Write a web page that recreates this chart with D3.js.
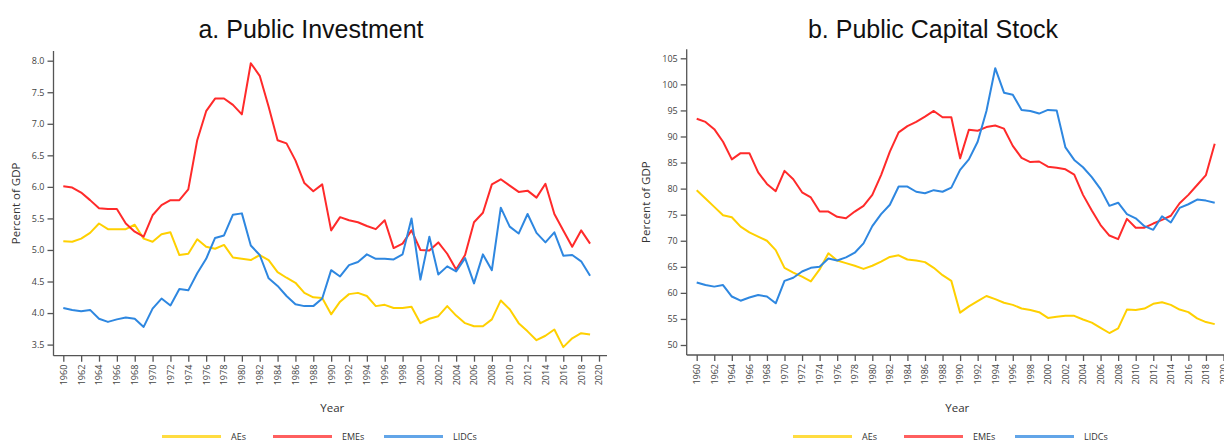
<!DOCTYPE html>
<html>
<head>
<meta charset="utf-8">
<script src="https://cdn.jsdelivr.net/npm/d3@7"></script>
<style>
  html, body { margin: 0; padding: 0; background: #fff; }
  svg { display: block; }
  .tick text { font-family: "Open Sans", "Noto Sans", sans-serif; font-size: 9px; fill: #444; }
  .axis path, .axis line { stroke: #555; stroke-width: 1.3px; }
  .ylab, .xlab, .legend text { font-family: "Open Sans", "Noto Sans", sans-serif; fill: #333; }
  .title { font-family: "Liberation Sans", Arial, sans-serif; fill: #111; }
</style>
</head>
<body>
<svg id="chart" width="1224" height="442"></svg>
<script>
// Years covered by both panels
const years = d3.range(1960, 2020);
const xTickYears = [1960,1962,1964,1966,1968,1970,1972,1974,1976,1978,1980,1982,1984,1986,1988,1990,
  1992,1994,1996,1998,2000,2002,2004,2006,2008,2010,2012,2014,2016,2018,2020];

// a. Public investment, percent of GDP
const invAEs = [5.14,5.13,5.18,5.27,5.42,5.33,5.33,5.33,5.40,5.18, 5.13,5.25,5.28,4.92,4.94,5.17,5.05,5.02,5.08,4.88,
  4.86,4.84,4.92,4.84,4.65,4.56,4.48,4.32,4.25,4.24, 3.98,4.18,4.30,4.32,4.27,4.11,4.13,4.08,4.08,4.10,
  3.84,3.91,3.95,4.11,3.96,3.84,3.79,3.79,3.90,4.20, 4.06,3.84,3.71,3.57,3.64,3.74,3.46,3.60,3.68,3.66];
const invEMEs = [6.01,5.99,5.91,5.79,5.66,5.65,5.65,5.42,5.29,5.21, 5.55,5.71,5.79,5.79,5.96,6.74,7.20,7.40,7.40,7.30,
  7.15,7.96,7.76,7.27,6.74,6.69,6.42,6.06,5.93,6.04, 5.31,5.52,5.47,5.44,5.38,5.33,5.47,5.03,5.10,5.31,
  5.00,4.99,5.12,4.94,4.69,4.92,5.44,5.59,6.04,6.12, 6.02,5.92,5.94,5.83,6.05,5.57,5.31,5.05,5.31,5.10];
const invLIDCs = [4.08,4.05,4.03,4.05,3.91,3.86,3.90,3.93,3.91,3.78, 4.07,4.23,4.12,4.38,4.36,4.63,4.86,5.19,5.23,5.56,
  5.58,5.07,4.92,4.55,4.43,4.27,4.14,4.11,4.11,4.23, 4.68,4.58,4.76,4.81,4.93,4.86,4.86,4.85,4.93,5.50,
  4.53,5.21,4.61,4.74,4.66,4.87,4.47,4.93,4.68,5.67, 5.37,5.26,5.57,5.27,5.12,5.28,4.91,4.92,4.82,4.59];
const invTicks = [3.5,4.0,4.5,5.0,5.5,6.0,6.5,7.0,7.5,8.0];

// b. Public capital stock, percent of GDP
const capAEs = [79.7,78.1,76.5,74.9,74.5,72.7,71.6,70.8,70.0,68.2, 64.8,63.9,63.1,62.2,64.5,67.6,66.2,65.7,65.2,64.6,
  65.2,66.0,66.9,67.2,66.4,66.2,65.9,64.8,63.4,62.3, 56.2,57.4,58.4,59.4,58.8,58.1,57.7,57.0,56.7,56.3,
  55.2,55.4,55.6,55.6,54.9,54.3,53.3,52.3,53.2,56.8, 56.7,57.0,57.9,58.2,57.7,56.8,56.3,55.1,54.4,54.0];
const capEMEs = [93.4,92.8,91.4,89.0,85.6,86.8,86.8,83.1,80.9,79.5, 83.4,81.8,79.3,78.3,75.6,75.6,74.6,74.3,75.6,76.7,
  78.8,82.6,87.1,90.8,92.0,92.8,93.8,94.9,93.7,93.7, 85.8,91.3,91.1,91.8,92.1,91.5,88.2,85.9,85.1,85.2,
  84.2,84.0,83.7,82.7,78.8,75.8,73.0,71.0,70.3,74.2, 72.5,72.5,73.3,74.0,74.8,77.2,78.8,80.7,82.6,88.6];
const capLIDCs = [62.0,61.5,61.2,61.5,59.3,58.5,59.1,59.6,59.3,58.0, 62.3,62.9,64.1,64.8,65.0,66.6,66.2,66.8,67.7,69.5,
  72.8,75.1,76.9,80.4,80.4,79.4,79.1,79.7,79.4,80.2, 83.6,85.6,89.0,94.9,103.1,98.4,98.0,95.1,94.9,94.4,
  95.1,95.0,87.9,85.5,84.1,82.2,79.9,76.7,77.3,75.1, 74.3,72.8,72.1,74.7,73.5,76.3,77.0,77.9,77.7,77.3];
const capTicks = [50,55,60,65,70,75,80,85,90,95,100,105];

const groupNames = ["AEs", "EMEs", "LIDCs"];
const groupColors = ["#FFD000", "#FF2A2A", "#2E87E0"];

const svg = d3.select("#chart");

function drawPanel(cfg) {
  const g = svg.append("g");
  const x = d3.scaleLinear().domain([1960, 2020]).range([cfg.x1960, cfg.x2020]);
  const y = d3.scaleLinear().domain([cfg.yLo, cfg.yHi]).range([cfg.yLoPx, cfg.yHiPx]);

  // axes
  const yAxis = d3.axisLeft(y).tickValues(cfg.yTicks).tickFormat(cfg.fmt).tickSize(6).tickPadding(3).tickSizeOuter(0);
  const yg = g.append("g").attr("class", "axis").attr("transform", `translate(${cfg.left},0)`).call(yAxis);
  yg.select(".domain").remove();
  g.append("line").attr("class", "axisline")
    .attr("x1", cfg.left).attr("x2", cfg.left).attr("y1", cfg.top).attr("y2", cfg.bottom)
    .attr("stroke", "#555").attr("stroke-width", 1.3);

  const xAxis = d3.axisBottom(x).tickValues(xTickYears).tickFormat(d3.format("d")).tickSize(6).tickSizeOuter(0);
  const xg = g.append("g").attr("class", "axis").attr("transform", `translate(0,${cfg.bottom})`).call(xAxis);
  xg.select(".domain").remove();
  xg.selectAll(".tick text")
    .attr("transform", "rotate(-90)")
    .attr("text-anchor", "end")
    .attr("x", -9).attr("y", 0).attr("dy", "0.32em");
  g.append("line")
    .attr("x1", cfg.left).attr("x2", cfg.right).attr("y1", cfg.bottom).attr("y2", cfg.bottom)
    .attr("stroke", "#555").attr("stroke-width", 1.3);

  // series lines
  const line = d3.line().x((d, i) => x(years[i])).y(d => y(d));
  cfg.series.forEach((vals, k) => {
    g.append("path").datum(vals)
      .attr("fill", "none").attr("stroke", groupColors[k]).attr("stroke-width", 2)
      .attr("stroke-linejoin", "round").attr("d", line);
  });

  // titles and axis labels
  g.append("text").attr("class", "title").attr("x", cfg.titleX).attr("y", 38)
    .attr("text-anchor", "middle").style("font-size", "25px").text(cfg.title);
  g.append("text").attr("class", "ylab")
    .attr("transform", `translate(${cfg.ylabX},${(cfg.top + cfg.bottom) / 2}) rotate(-90)`)
    .attr("text-anchor", "middle").style("font-size", "11.5px").text("Percent of GDP");
  g.append("text").attr("class", "xlab").attr("x", (cfg.left + cfg.right) / 2 + 2).attr("y", 412)
    .attr("text-anchor", "middle").style("font-size", "11.5px").text("Year");

  // legend
  const lg = g.append("g").attr("class", "legend");
  groupNames.forEach((name, k) => {
    const lx = cfg.legendX + k * 111;
    lg.append("line").attr("x1", lx).attr("x2", lx + 59).attr("y1", 436.5).attr("y2", 436.5)
      .attr("stroke", groupColors[k]).attr("stroke-width", 3).attr("stroke-opacity", 0.75);
    lg.append("text").attr("x", lx + 69).attr("y", 436.5).attr("dy", "0.35em")
      .style("font-size", "9px").text(name);
  });
}

drawPanel({
  title: "a. Public Investment", titleX: 311,
  left: 53.5, right: 607, top: 51, bottom: 355.7,
  x1960: 63.3, x2020: 599,
  yLo: 3.5, yHi: 8.0, yLoPx: 344.6, yHiPx: 60.7,
  yTicks: invTicks, fmt: d3.format(".1f"),
  ylabX: 20, legendX: 162,
  series: [invAEs, invEMEs, invLIDCs]
});

drawPanel({
  title: "b. Public Capital Stock", titleX: 933,
  left: 686.7, right: 1224, top: 49.3, bottom: 355,
  x1960: 696.7, x2020: 1223.5,
  yLo: 50, yHi: 105, yLoPx: 345, yHiPx: 58.3,
  yTicks: capTicks, fmt: d3.format("d"),
  ylabX: 650, legendX: 793,
  series: [capAEs, capEMEs, capLIDCs]
});
</script>
</body>
</html>
